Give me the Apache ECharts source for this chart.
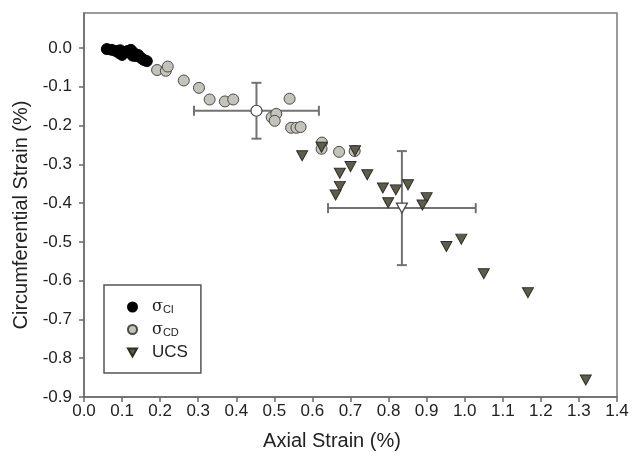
<!DOCTYPE html>
<html>
<head>
<meta charset="utf-8">
<script src="https://cdn.jsdelivr.net/npm/echarts@6/dist/echarts.min.js"></script>
<style>
  html, body { margin: 0; padding: 0; background: #fff; }
  #chart { width: 632px; height: 459px; }
</style>
</head>
<body>
<div id="chart"></div>
<script>
// tick labels
var xTicks = [0, 0.1, 0.2, 0.3, 0.4, 0.5, 0.6, 0.7, 0.8, 0.9, 1.0, 1.1, 1.2, 1.3, 1.4];
var yTicks = [0, -0.1, -0.2, -0.3, -0.4, -0.5, -0.6, -0.7, -0.8, -0.9];

// [axial, circumferential] strain
var ciPoints = [
  [0.060, -0.003], [0.073, -0.005], [0.084, -0.008], [0.092, -0.013], [0.100, -0.018],
  [0.108, -0.010], [0.115, -0.008], [0.123, -0.005], [0.131, -0.013], [0.136, -0.021],
  [0.142, -0.018], [0.150, -0.026], [0.157, -0.031], [0.165, -0.034], [0.095, -0.006],
  [0.128, -0.020]
];
var cdPoints = [
  [0.192, -0.057], [0.215, -0.059], [0.220, -0.048], [0.262, -0.084], [0.302, -0.103],
  [0.330, -0.133], [0.370, -0.138], [0.392, -0.133], [0.540, -0.131], [0.493, -0.179],
  [0.505, -0.170], [0.501, -0.188], [0.544, -0.206], [0.558, -0.206], [0.569, -0.204],
  [0.625, -0.244], [0.624, -0.260], [0.670, -0.268], [0.711, -0.266]
];
var ucsPoints = [
  [0.573, -0.278], [0.624, -0.256], [0.712, -0.265], [0.700, -0.306], [0.672, -0.323],
  [0.744, -0.327], [0.672, -0.357], [0.661, -0.379], [0.785, -0.361], [0.819, -0.366],
  [0.851, -0.353], [0.799, -0.399], [0.900, -0.386], [0.889, -0.405], [0.991, -0.493],
  [0.952, -0.512], [1.050, -0.582], [1.166, -0.631], [1.318, -0.856]
];
// mean values with error (x, y, errX, errY)
var cdMean = [0.453, -0.162, 0.164, 0.072];
var ucsMean = [0.835, -0.413, 0.194, 0.147];

var chart = echarts.init(document.getElementById('chart'), null, { renderer: 'canvas' });

function errorBars(params, api) {
  var x = api.value(0), y = api.value(1), ex = api.value(2), ey = api.value(3);
  var l = api.coord([x - ex, y]), r = api.coord([x + ex, y]);
  var t = api.coord([x, y + ey]), b = api.coord([x, y - ey]);
  var c = 5;
  var st = { stroke: '#727272', lineWidth: 2 };
  function ln(x1, y1, x2, y2) {
    return { type: 'line', shape: { x1: x1, y1: y1, x2: x2, y2: y2 }, style: st };
  }
  return {
    type: 'group',
    children: [
      ln(l[0], l[1], r[0], r[1]),
      ln(t[0], t[1], b[0], b[1]),
      ln(l[0], l[1] - c, l[0], l[1] + c),
      ln(r[0], r[1] - c, r[0], r[1] + c),
      ln(t[0] - c, t[1], t[0] + c, t[1]),
      ln(b[0] - c, b[1], b[0] + c, b[1])
    ]
  };
}

var font = 'Liberation Sans, Arial, sans-serif';
var axisLineStyle = { color: '#6a6a6a', width: 1.5 };
var downTri = 'path://M0,0 L10,0 L5,9 Z';

var option = {
  animation: false,
  backgroundColor: '#fff',
  grid: { left: 84, right: 15, top: 13, bottom: 62, show: true, borderColor: '#7a7a7a', borderWidth: 1.5 },
  legend: {
    orient: 'vertical',
    left: 104,
    top: 285,
    padding: [14, 13, 12, 23],
    itemGap: 6,
    itemWidth: 9,
    itemHeight: 9,
    borderColor: '#555',
    borderWidth: 1.5,
    backgroundColor: '#fff',
    data: [
      { name: 'σCI', icon: 'circle' },
      { name: 'σCD', icon: 'circle' },
      { name: 'UCS', icon: downTri }
    ],
    formatter: function (name) {
      if (name === 'UCS') return '{u|UCS}';
      return '{s|σ}{b|' + name.slice(1) + '}';
    },
    textStyle: {
      color: '#222',
      fontFamily: font,
      rich: {
        s: { fontSize: 16, fontFamily: 'DejaVu Serif', color: '#222', verticalAlign: 'bottom', height: 20, padding: [0, 0, 0, 10] },
        b: { fontSize: 11, fontFamily: font, color: '#222', verticalAlign: 'bottom', padding: [0, 0, -3, 0], height: 20 },
        u: { fontSize: 17, fontFamily: font, color: '#222', height: 20, padding: [0, 0, 0, 10] }
      }
    }
  },
  xAxis: {
    type: 'value',
    min: 0,
    max: 1.4,
    interval: 0.1,
    name: 'Axial Strain (%)',
    nameLocation: 'middle',
    nameGap: 34,
    nameTextStyle: { fontSize: 20, fontFamily: font, color: '#222', padding: [0, 37, 0, 0] },
    axisLine: { onZero: false, lineStyle: axisLineStyle },
    axisTick: { length: 5, lineStyle: axisLineStyle, customValues: xTicks },
    axisLabel: {
      customValues: xTicks,
      fontSize: 17, fontFamily: font, color: '#222', margin: 6,
      formatter: function (v) { return v.toFixed(1); }
    },
    splitLine: { show: false }
  },
  yAxis: {
    type: 'value',
    min: -0.9,
    max: 0.09,
    name: 'Circumferential Strain (%)',
    nameLocation: 'middle',
    nameGap: 51,
    nameTextStyle: { fontSize: 20, fontFamily: font, color: '#222', padding: [0, 20, 0, 0] },
    axisLine: { onZero: false, lineStyle: axisLineStyle },
    axisTick: { length: 5, lineStyle: axisLineStyle, customValues: yTicks },
    axisLabel: {
      customValues: yTicks,
      fontSize: 17, fontFamily: font, color: '#222', margin: 12,
      formatter: function (v) { return v.toFixed(1); }
    },
    splitLine: { show: false }
  },
  series: [
    {
      name: 'errors',
      type: 'custom',
      renderItem: errorBars,
      data: [cdMean, ucsMean],
      z: 2,
      silent: true
    },
    {
      name: 'σCI',
      type: 'scatter',
      data: ciPoints,
      symbol: 'circle',
      symbolSize: 11,
      itemStyle: { color: '#000', borderColor: '#000', borderWidth: 1, opacity: 1 },
      z: 3
    },
    {
      name: 'σCD',
      type: 'scatter',
      data: cdPoints,
      symbol: 'circle',
      symbolSize: 11,
      itemStyle: { color: '#c3c3bb', borderColor: '#4a4a44', borderWidth: 1, opacity: 1 },
      z: 3
    },
    {
      name: 'UCS',
      type: 'scatter',
      data: ucsPoints,
      symbol: 'triangle',
      symbolRotate: 180,
      symbolSize: [11, 10],
      itemStyle: { color: '#5d5d4a', borderColor: '#2e2e26', borderWidth: 1, opacity: 1 },
      z: 3
    },
    {
      name: 'cdMean',
      type: 'scatter',
      data: [[cdMean[0], cdMean[1]]],
      symbol: 'circle',
      symbolSize: 11,
      itemStyle: { color: '#fff', borderColor: '#444', borderWidth: 1.2, opacity: 1 },
      z: 4
    },
    {
      name: 'ucsMean',
      type: 'scatter',
      data: [[ucsMean[0], ucsMean[1]]],
      symbol: 'triangle',
      symbolRotate: 180,
      symbolSize: [11, 10],
      itemStyle: { color: '#fff', borderColor: '#444', borderWidth: 1.2, opacity: 1 },
      z: 4
    }
  ]
};

chart.setOption(option);
</script>
</body>
</html>
